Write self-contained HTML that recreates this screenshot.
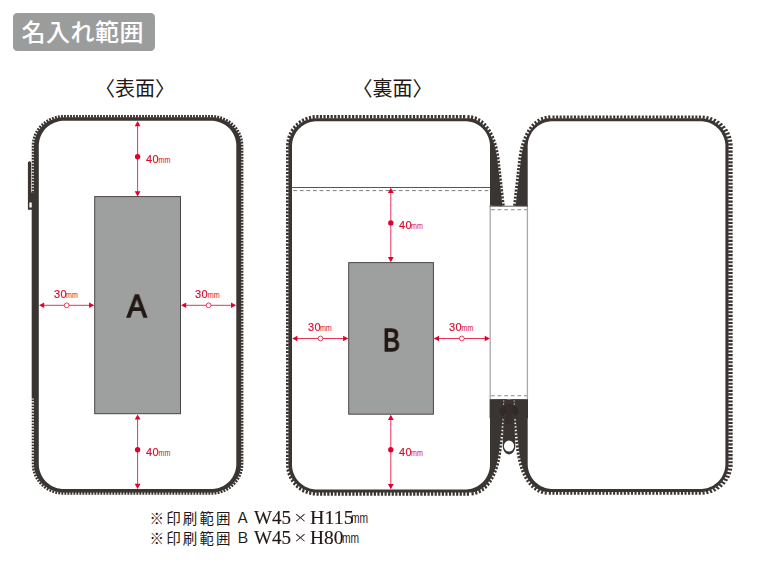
<!DOCTYPE html>
<html lang="ja">
<head>
<meta charset="utf-8">
<title>名入れ範囲</title>
<style>
html,body{margin:0;padding:0;background:#fff;}
body{width:760px;height:570px;position:relative;overflow:hidden;font-family:"Liberation Sans",sans-serif;}
#art{position:absolute;left:0;top:0;width:760px;height:570px;display:block;}
.badge{position:absolute;left:13px;top:12.5px;width:142px;height:38px;border-radius:4.5px;background:#9b9d9d;}
.t{position:absolute;white-space:nowrap;line-height:1;margin:0;transform-origin:0 0;will-change:transform;}
.dim{font-family:"Liberation Sans",sans-serif;font-size:11px;color:#d8102f;letter-spacing:0.35px;-webkit-text-stroke:0.2px #d8102f;}
.big{font-family:"Liberation Sans",sans-serif;font-size:31px;color:#231815;-webkit-text-stroke:1.4px #231815;}
.note{font-family:"Liberation Serif",serif;font-size:18px;color:#231815;-webkit-text-stroke:0.15px #231815;}
.x{-webkit-text-stroke:0;color:#3d3533;}
</style>
</head>
<body>
<div class="badge"></div>
<svg id="art" width="760" height="570" viewBox="0 0 760 570">
<path fill="#3a3532" fill-rule="evenodd" d="M34 145.8L34.06 143.94 34.25 142.08 34.57 140.24 35.02 138.42 35.58 136.64 36.27 134.89 37.07 133.19 37.99 131.55 39.02 129.97 40.16 128.45 41.4 127.01 42.73 125.65 44.15 124.37 45.66 123.19 47.24 122.1 48.9 121.12 50.62 120.24 52.4 119.47 54.22 118.81 56.09 118.27 57.99 117.85 59.91 117.54 61.85 117.36 63.8 117.3 211.3 117.3 213.25 117.36 215.19 117.54 217.11 117.85 219.01 118.27 220.88 118.81 222.7 119.47 224.48 120.24 226.2 121.12 227.86 122.1 229.44 123.19 230.95 124.37 232.37 125.65 233.7 127.01 234.94 128.45 236.08 129.97 237.11 131.55 238.03 133.19 238.83 134.89 239.52 136.64 240.08 138.42 240.53 140.24 240.85 142.08 241.04 143.94 241.1 145.8 241.1 464 241.04 465.86 240.85 467.72 240.53 469.56 240.08 471.38 239.52 473.16 238.83 474.91 238.03 476.61 237.11 478.25 236.08 479.83 234.94 481.35 233.7 482.79 232.37 484.15 230.95 485.43 229.44 486.61 227.86 487.7 226.2 488.68 224.48 489.56 222.7 490.33 220.88 490.99 219.01 491.53 217.11 491.95 215.19 492.26 213.25 492.44 211.3 492.5 63.8 492.5 61.85 492.44 59.91 492.26 57.99 491.95 56.09 491.53 54.22 490.99 52.4 490.33 50.62 489.56 48.9 488.68 47.24 487.7 45.66 486.61 44.15 485.43 42.73 484.15 41.4 482.79 40.16 481.35 39.02 479.83 37.99 478.25 37.07 476.61 36.27 474.91 35.58 473.16 35.02 471.38 34.57 469.56 34.25 467.72 34.06 465.86 34 464ZM38.8 145.8L38.85 144.16 39.01 142.54 39.28 140.92 39.65 139.33 40.13 137.76 40.7 136.23 41.38 134.74 42.15 133.3 43.01 131.91 43.97 130.58 45 129.32 46.12 128.12 47.32 127 48.58 125.97 49.91 125.01 51.3 124.15 52.74 123.38 54.23 122.7 55.76 122.13 57.33 121.65 58.92 121.28 60.54 121.01 62.16 120.85 63.8 120.8 211.3 120.8 212.94 120.85 214.56 121.01 216.18 121.28 217.77 121.65 219.34 122.13 220.87 122.7 222.36 123.38 223.8 124.15 225.19 125.01 226.52 125.97 227.78 127 228.98 128.12 230.1 129.32 231.13 130.58 232.09 131.91 232.95 133.3 233.72 134.74 234.4 136.23 234.97 137.76 235.45 139.33 235.82 140.92 236.09 142.54 236.25 144.16 236.3 145.8 236.3 464 236.25 465.64 236.09 467.26 235.82 468.88 235.45 470.47 234.97 472.04 234.4 473.57 233.72 475.06 232.95 476.5 232.09 477.89 231.13 479.22 230.1 480.48 228.98 481.68 227.78 482.8 226.52 483.83 225.19 484.79 223.8 485.65 222.36 486.42 220.87 487.1 219.34 487.67 217.77 488.15 216.18 488.52 214.56 488.79 212.94 488.95 211.3 489 63.8 489 62.16 488.95 60.54 488.79 58.92 488.52 57.33 488.15 55.76 487.67 54.23 487.1 52.74 486.42 51.3 485.65 49.91 484.79 48.58 483.83 47.32 482.8 46.12 481.68 45 480.48 43.97 479.22 43.01 477.89 42.15 476.5 41.38 475.06 40.7 473.57 40.13 472.04 39.65 470.47 39.28 468.88 39.01 467.26 38.85 465.64 38.8 464Z"/>
<path fill="#3a3532" d="M34.4 192.6L31.7 192.75 31.7 190.85 34.4 190.85ZM34.4 189.75L31.7 189.75 31.7 187.85 34.4 187.85ZM34.4 186.75L31.7 186.75 31.7 184.85 34.4 184.85ZM34.4 183.75L31.7 183.75 31.7 181.85 34.4 181.85ZM34.4 180.75L31.7 180.75 31.7 178.85 34.4 178.85ZM34.4 177.75L31.7 177.75 31.7 175.85 34.4 175.85ZM34.4 174.75L31.7 174.75 31.7 172.85 34.4 172.85ZM34.4 171.75L31.7 171.75 31.7 169.85 34.4 169.85ZM34.4 168.75L31.7 168.75 31.7 166.85 34.4 166.85ZM34.4 165.75L31.7 165.75 31.7 163.85 34.4 163.85ZM34.4 162.75L31.7 162.75 31.7 160.85 34.4 160.85ZM34.4 159.75L31.7 159.75 31.7 157.85 34.4 157.85ZM34.4 156.75L31.7 156.75 31.7 154.85 34.4 154.85ZM34.4 153.75L31.7 153.75 31.7 151.85 34.4 151.85ZM34.4 150.75L31.7 150.75 31.7 148.85 34.4 148.85ZM34.4 147.75L31.7 147.75 31.7 145.85 34.4 145.85ZM34.43 144.79L31.69 144.51 31.89 142.62 34.57 142.9ZM34.7 141.83L32.04 141.37 32.37 139.5 35.05 139.97ZM35.3 138.95L32.7 138.13 33.27 136.32 35.84 137.13ZM36.21 136.12L33.7 135.14 34.4 133.37 36.95 134.38ZM37.4 133.43L35.04 132.11 35.97 130.45 38.33 131.77ZM38.9 130.89L36.69 129.24 37.83 127.72 39.99 129.34ZM40.65 128.49L38.6 126.73 39.84 125.29 41.9 127.06ZM42.63 126.32L40.81 124.28 42.22 123.01 44.02 125.02ZM44.85 124.33L43.18 122.21 44.68 121.04 46.36 123.19ZM47.23 122.6L45.84 120.26 47.47 119.29 48.85 121.61ZM49.8 121.11L48.57 118.7 50.26 117.84 51.51 120.29ZM52.48 119.87L51.56 117.33 53.35 116.68 54.26 119.22ZM55.27 118.92L54.67 116.23 56.52 115.82 57.11 118.45ZM58.16 118.23L57.74 115.56 59.61 115.26 60.04 117.93ZM61.08 117.83L60.99 115.09 62.89 115.03 62.98 117.73ZM64.06 117.7L64.06 115 65.96 115 65.96 117.7ZM67.06 117.7L67.06 115 68.96 115 68.96 117.7ZM70.06 117.7L70.06 115 71.96 115 71.96 117.7ZM73.06 117.7L73.06 115 74.96 115 74.96 117.7ZM76.06 117.7L76.06 115 77.96 115 77.96 117.7ZM79.06 117.7L79.06 115 80.96 115 80.96 117.7ZM82.06 117.7L82.06 115 83.96 115 83.96 117.7ZM85.06 117.7L85.06 115 86.96 115 86.96 117.7ZM88.06 117.7L88.06 115 89.96 115 89.96 117.7ZM91.06 117.7L91.06 115 92.96 115 92.96 117.7ZM94.06 117.7L94.06 115 95.96 115 95.96 117.7ZM97.06 117.7L97.06 115 98.96 115 98.96 117.7ZM100.06 117.7L100.06 115 101.96 115 101.96 117.7ZM103.06 117.7L103.06 115 104.96 115 104.96 117.7ZM106.06 117.7L106.06 115 107.96 115 107.96 117.7ZM109.06 117.7L109.06 115 110.96 115 110.96 117.7ZM112.06 117.7L112.06 115 113.96 115 113.96 117.7ZM115.06 117.7L115.06 115 116.96 115 116.96 117.7ZM118.06 117.7L118.06 115 119.96 115 119.96 117.7ZM121.06 117.7L121.06 115 122.96 115 122.96 117.7ZM124.06 117.7L124.06 115 125.96 115 125.96 117.7ZM127.06 117.7L127.06 115 128.96 115 128.96 117.7ZM130.06 117.7L130.06 115 131.96 115 131.96 117.7ZM133.06 117.7L133.06 115 134.96 115 134.96 117.7ZM136.06 117.7L136.06 115 137.96 115 137.96 117.7ZM139.06 117.7L139.06 115 140.96 115 140.96 117.7ZM142.06 117.7L142.06 115 143.96 115 143.96 117.7ZM145.06 117.7L145.06 115 146.96 115 146.96 117.7ZM148.06 117.7L148.06 115 149.96 115 149.96 117.7ZM151.06 117.7L151.06 115 152.96 115 152.96 117.7ZM154.06 117.7L154.06 115 155.96 115 155.96 117.7ZM157.06 117.7L157.06 115 158.96 115 158.96 117.7ZM160.06 117.7L160.06 115 161.96 115 161.96 117.7ZM163.06 117.7L163.06 115 164.96 115 164.96 117.7ZM166.06 117.7L166.06 115 167.96 115 167.96 117.7ZM169.06 117.7L169.06 115 170.96 115 170.96 117.7ZM172.06 117.7L172.06 115 173.96 115 173.96 117.7ZM175.06 117.7L175.06 115 176.96 115 176.96 117.7ZM178.06 117.7L178.06 115 179.96 115 179.96 117.7ZM181.06 117.7L181.06 115 182.96 115 182.96 117.7ZM184.06 117.7L184.06 115 185.96 115 185.96 117.7ZM187.06 117.7L187.06 115 188.96 115 188.96 117.7ZM190.06 117.7L190.06 115 191.96 115 191.96 117.7ZM193.06 117.7L193.06 115 194.96 115 194.96 117.7ZM196.06 117.7L196.06 115 197.96 115 197.96 117.7ZM199.06 117.7L199.06 115 200.96 115 200.96 117.7ZM202.06 117.7L202.06 115 203.96 115 203.96 117.7ZM205.06 117.7L205.06 115 206.96 115 206.96 117.7ZM208.06 117.7L208.06 115 209.96 115 209.96 117.7ZM211.05 117.7L211.14 114.99 213.03 115.05 212.95 117.75ZM214.02 117.84L214.27 115.15 216.17 115.33 215.91 118.06ZM216.94 118.23L217.53 115.58 219.39 116 218.8 118.63ZM219.83 118.93L220.59 116.33 222.41 116.86 221.64 119.51ZM222.63 119.87L223.7 117.39 225.44 118.15 224.37 120.63ZM225.3 121.11L226.71 118.74 228.34 119.71 226.96 122.04ZM227.87 122.6L229.4 120.37 230.97 121.45 229.43 123.69ZM230.25 124.33L232.08 122.3 233.49 123.56 231.69 125.58ZM232.47 126.32L234.4 124.43 235.73 125.79 233.77 127.7ZM234.45 128.49L236.63 126.86 237.77 128.38 235.61 130ZM236.2 130.89L238.47 129.42 239.5 131.01 237.19 132.52ZM237.7 133.43L240.14 132.28 240.95 133.99 238.5 135.15ZM238.89 136.12L241.5 135.29 242.08 137.1 239.51 137.92ZM239.8 138.95L242.42 138.31 242.87 140.16 240.22 140.8ZM240.4 141.83L243.1 141.55 243.3 143.44 240.61 143.72ZM240.67 144.79L243.36 144.7 243.43 146.6 240.7 146.69ZM240.7 147.78L243.4 147.78 243.4 149.68 240.7 149.68ZM240.7 150.78L243.4 150.78 243.4 152.68 240.7 152.68ZM240.7 153.78L243.4 153.78 243.4 155.68 240.7 155.68ZM240.7 156.78L243.4 156.78 243.4 158.68 240.7 158.68ZM240.7 159.78L243.4 159.78 243.4 161.68 240.7 161.68ZM240.7 162.78L243.4 162.78 243.4 164.68 240.7 164.68ZM240.7 165.78L243.4 165.78 243.4 167.68 240.7 167.68ZM240.7 168.78L243.4 168.78 243.4 170.68 240.7 170.68ZM240.7 171.78L243.4 171.78 243.4 173.68 240.7 173.68ZM240.7 174.78L243.4 174.78 243.4 176.68 240.7 176.68ZM240.7 177.78L243.4 177.78 243.4 179.68 240.7 179.68ZM240.7 180.78L243.4 180.78 243.4 182.68 240.7 182.68ZM240.7 183.78L243.4 183.78 243.4 185.68 240.7 185.68ZM240.7 186.78L243.4 186.78 243.4 188.68 240.7 188.68ZM240.7 189.78L243.4 189.78 243.4 191.68 240.7 191.68ZM240.7 192.78L243.4 192.78 243.4 194.68 240.7 194.68ZM240.7 195.78L243.4 195.78 243.4 197.68 240.7 197.68ZM240.7 198.78L243.4 198.78 243.4 200.68 240.7 200.68ZM240.7 201.78L243.4 201.78 243.4 203.68 240.7 203.68ZM240.7 204.78L243.4 204.78 243.4 206.68 240.7 206.68ZM240.7 207.78L243.4 207.78 243.4 209.68 240.7 209.68ZM240.7 210.78L243.4 210.78 243.4 212.68 240.7 212.68ZM240.7 213.78L243.4 213.78 243.4 215.68 240.7 215.68ZM240.7 216.78L243.4 216.78 243.4 218.68 240.7 218.68ZM240.7 219.78L243.4 219.78 243.4 221.68 240.7 221.68ZM240.7 222.78L243.4 222.78 243.4 224.68 240.7 224.68ZM240.7 225.78L243.4 225.78 243.4 227.68 240.7 227.68ZM240.7 228.78L243.4 228.78 243.4 230.68 240.7 230.68ZM240.7 231.78L243.4 231.78 243.4 233.68 240.7 233.68ZM240.7 234.78L243.4 234.78 243.4 236.68 240.7 236.68ZM240.7 237.78L243.4 237.78 243.4 239.68 240.7 239.68ZM240.7 240.78L243.4 240.78 243.4 242.68 240.7 242.68ZM240.7 243.78L243.4 243.78 243.4 245.68 240.7 245.68ZM240.7 246.78L243.4 246.78 243.4 248.68 240.7 248.68ZM240.7 249.78L243.4 249.78 243.4 251.68 240.7 251.68ZM240.7 252.78L243.4 252.78 243.4 254.68 240.7 254.68ZM240.7 255.78L243.4 255.78 243.4 257.68 240.7 257.68ZM240.7 258.78L243.4 258.78 243.4 260.68 240.7 260.68ZM240.7 261.78L243.4 261.78 243.4 263.68 240.7 263.68ZM240.7 264.78L243.4 264.78 243.4 266.68 240.7 266.68ZM240.7 267.78L243.4 267.78 243.4 269.68 240.7 269.68ZM240.7 270.78L243.4 270.78 243.4 272.68 240.7 272.68ZM240.7 273.78L243.4 273.78 243.4 275.68 240.7 275.68ZM240.7 276.78L243.4 276.78 243.4 278.68 240.7 278.68ZM240.7 279.78L243.4 279.78 243.4 281.68 240.7 281.68ZM240.7 282.78L243.4 282.78 243.4 284.68 240.7 284.68ZM240.7 285.78L243.4 285.78 243.4 287.68 240.7 287.68ZM240.7 288.78L243.4 288.78 243.4 290.68 240.7 290.68ZM240.7 291.78L243.4 291.78 243.4 293.68 240.7 293.68ZM240.7 294.78L243.4 294.78 243.4 296.68 240.7 296.68ZM240.7 297.78L243.4 297.78 243.4 299.68 240.7 299.68ZM240.7 300.78L243.4 300.78 243.4 302.68 240.7 302.68ZM240.7 303.78L243.4 303.78 243.4 305.68 240.7 305.68ZM240.7 306.78L243.4 306.78 243.4 308.68 240.7 308.68ZM240.7 309.78L243.4 309.78 243.4 311.68 240.7 311.68ZM240.7 312.78L243.4 312.78 243.4 314.68 240.7 314.68ZM240.7 315.78L243.4 315.78 243.4 317.68 240.7 317.68ZM240.7 318.78L243.4 318.78 243.4 320.68 240.7 320.68ZM240.7 321.78L243.4 321.78 243.4 323.68 240.7 323.68ZM240.7 324.78L243.4 324.78 243.4 326.68 240.7 326.68ZM240.7 327.78L243.4 327.78 243.4 329.68 240.7 329.68ZM240.7 330.78L243.4 330.78 243.4 332.68 240.7 332.68ZM240.7 333.78L243.4 333.78 243.4 335.68 240.7 335.68ZM240.7 336.78L243.4 336.78 243.4 338.68 240.7 338.68ZM240.7 339.78L243.4 339.78 243.4 341.68 240.7 341.68ZM240.7 342.78L243.4 342.78 243.4 344.68 240.7 344.68ZM240.7 345.78L243.4 345.78 243.4 347.68 240.7 347.68ZM240.7 348.78L243.4 348.78 243.4 350.68 240.7 350.68ZM240.7 351.78L243.4 351.78 243.4 353.68 240.7 353.68ZM240.7 354.78L243.4 354.78 243.4 356.68 240.7 356.68ZM240.7 357.78L243.4 357.78 243.4 359.68 240.7 359.68ZM240.7 360.78L243.4 360.78 243.4 362.68 240.7 362.68ZM240.7 363.78L243.4 363.78 243.4 365.68 240.7 365.68ZM240.7 366.78L243.4 366.78 243.4 368.68 240.7 368.68ZM240.7 369.78L243.4 369.78 243.4 371.68 240.7 371.68ZM240.7 372.78L243.4 372.78 243.4 374.68 240.7 374.68ZM240.7 375.78L243.4 375.78 243.4 377.68 240.7 377.68ZM240.7 378.78L243.4 378.78 243.4 380.68 240.7 380.68ZM240.7 381.78L243.4 381.78 243.4 383.68 240.7 383.68ZM240.7 384.78L243.4 384.78 243.4 386.68 240.7 386.68ZM240.7 387.78L243.4 387.78 243.4 389.68 240.7 389.68ZM240.7 390.78L243.4 390.78 243.4 392.68 240.7 392.68ZM240.7 393.78L243.4 393.78 243.4 395.68 240.7 395.68ZM240.7 396.78L243.4 396.78 243.4 398.68 240.7 398.68ZM240.7 399.78L243.4 399.78 243.4 401.68 240.7 401.68ZM240.7 402.78L243.4 402.78 243.4 404.68 240.7 404.68ZM240.7 405.78L243.4 405.78 243.4 407.68 240.7 407.68ZM240.7 408.78L243.4 408.78 243.4 410.68 240.7 410.68ZM240.7 411.78L243.4 411.78 243.4 413.68 240.7 413.68ZM240.7 414.78L243.4 414.78 243.4 416.68 240.7 416.68ZM240.7 417.78L243.4 417.78 243.4 419.68 240.7 419.68ZM240.7 420.78L243.4 420.78 243.4 422.68 240.7 422.68ZM240.7 423.78L243.4 423.78 243.4 425.68 240.7 425.68ZM240.7 426.78L243.4 426.78 243.4 428.68 240.7 428.68ZM240.7 429.78L243.4 429.78 243.4 431.68 240.7 431.68ZM240.7 432.78L243.4 432.78 243.4 434.68 240.7 434.68ZM240.7 435.78L243.4 435.78 243.4 437.68 240.7 437.68ZM240.7 438.78L243.4 438.78 243.4 440.68 240.7 440.68ZM240.7 441.78L243.4 441.78 243.4 443.68 240.7 443.68ZM240.7 444.78L243.4 444.78 243.4 446.68 240.7 446.68ZM240.7 447.78L243.4 447.78 243.4 449.68 240.7 449.68ZM240.7 450.78L243.4 450.78 243.4 452.68 240.7 452.68ZM240.7 453.78L243.4 453.78 243.4 455.68 240.7 455.68ZM240.7 456.78L243.4 456.78 243.4 458.68 240.7 458.68ZM240.7 459.78L243.4 459.78 243.4 461.68 240.7 461.68ZM240.7 462.78L243.4 462.78 243.4 464.68 240.68 464.68ZM240.64 465.74L243.33 466.01 243.14 467.9 240.45 467.63ZM240.28 468.66L242.96 469.31 242.51 471.15 239.88 470.51ZM239.61 471.55L242.18 472.37 241.61 474.18 239.01 473.35ZM238.63 474.33L241.1 475.5 240.28 477.21 237.84 476.06ZM237.34 477.01L239.7 478.32 238.77 479.98 236.38 478.64ZM235.81 479.52L237.97 481.14 236.83 482.66 234.67 481.04ZM234 481.84L235.97 483.77 234.64 485.13 232.71 483.24ZM231.95 483.99L233.75 486.01 232.34 487.27 230.53 485.25ZM229.7 485.9L231.25 488.16 229.68 489.23 228.16 487.01ZM227.26 487.59L228.64 489.91 227 490.88 225.61 488.54ZM224.67 489.01L225.76 491.51 224.02 492.27 222.94 489.79ZM221.94 490.18L222.86 492.72 221.07 493.36 220.14 490.79ZM219.13 491.08L219.72 493.73 217.87 494.14 217.28 491.51ZM216.22 491.69L216.64 494.35 214.77 494.65 214.34 491.94ZM213.29 492.03L213.38 494.74 211.48 494.8 211.4 492.1ZM210.31 492.1L210.31 494.8 208.41 494.8 208.41 492.1ZM207.31 492.1L207.31 494.8 205.41 494.8 205.41 492.1ZM204.31 492.1L204.31 494.8 202.41 494.8 202.41 492.1ZM201.31 492.1L201.31 494.8 199.41 494.8 199.41 492.1ZM198.31 492.1L198.31 494.8 196.41 494.8 196.41 492.1ZM195.31 492.1L195.31 494.8 193.41 494.8 193.41 492.1ZM192.31 492.1L192.31 494.8 190.41 494.8 190.41 492.1ZM189.31 492.1L189.31 494.8 187.41 494.8 187.41 492.1ZM186.31 492.1L186.31 494.8 184.41 494.8 184.41 492.1ZM183.31 492.1L183.31 494.8 181.41 494.8 181.41 492.1ZM180.31 492.1L180.31 494.8 178.41 494.8 178.41 492.1ZM177.31 492.1L177.31 494.8 175.41 494.8 175.41 492.1ZM174.31 492.1L174.31 494.8 172.41 494.8 172.41 492.1ZM171.31 492.1L171.31 494.8 169.41 494.8 169.41 492.1ZM168.31 492.1L168.31 494.8 166.41 494.8 166.41 492.1ZM165.31 492.1L165.31 494.8 163.41 494.8 163.41 492.1ZM162.31 492.1L162.31 494.8 160.41 494.8 160.41 492.1ZM159.31 492.1L159.31 494.8 157.41 494.8 157.41 492.1ZM156.31 492.1L156.31 494.8 154.41 494.8 154.41 492.1ZM153.31 492.1L153.31 494.8 151.41 494.8 151.41 492.1ZM150.31 492.1L150.31 494.8 148.41 494.8 148.41 492.1ZM147.31 492.1L147.31 494.8 145.41 494.8 145.41 492.1ZM144.31 492.1L144.31 494.8 142.41 494.8 142.41 492.1ZM141.31 492.1L141.31 494.8 139.41 494.8 139.41 492.1ZM138.31 492.1L138.31 494.8 136.41 494.8 136.41 492.1ZM135.31 492.1L135.31 494.8 133.41 494.8 133.41 492.1ZM132.31 492.1L132.31 494.8 130.41 494.8 130.41 492.1ZM129.31 492.1L129.31 494.8 127.41 494.8 127.41 492.1ZM126.31 492.1L126.31 494.8 124.41 494.8 124.41 492.1ZM123.31 492.1L123.31 494.8 121.41 494.8 121.41 492.1ZM120.31 492.1L120.31 494.8 118.41 494.8 118.41 492.1ZM117.31 492.1L117.31 494.8 115.41 494.8 115.41 492.1ZM114.31 492.1L114.31 494.8 112.41 494.8 112.41 492.1ZM111.31 492.1L111.31 494.8 109.41 494.8 109.41 492.1ZM108.31 492.1L108.31 494.8 106.41 494.8 106.41 492.1ZM105.31 492.1L105.31 494.8 103.41 494.8 103.41 492.1ZM102.31 492.1L102.31 494.8 100.41 494.8 100.41 492.1ZM99.31 492.1L99.31 494.8 97.41 494.8 97.41 492.1ZM96.31 492.1L96.31 494.8 94.41 494.8 94.41 492.1ZM93.31 492.1L93.31 494.8 91.41 494.8 91.41 492.1ZM90.31 492.1L90.31 494.8 88.41 494.8 88.41 492.1ZM87.31 492.1L87.31 494.8 85.41 494.8 85.41 492.1ZM84.31 492.1L84.31 494.8 82.41 494.8 82.41 492.1ZM81.31 492.1L81.31 494.8 79.41 494.8 79.41 492.1ZM78.31 492.1L78.31 494.8 76.41 494.8 76.41 492.1ZM75.31 492.1L75.31 494.8 73.41 494.8 73.41 492.1ZM72.31 492.1L72.31 494.8 70.41 494.8 70.41 492.1ZM69.31 492.1L69.31 494.8 67.41 494.8 67.41 492.1ZM66.31 492.1L66.31 494.8 64.41 494.8 64.41 492.1ZM63.32 492.08L63.24 494.78 61.34 494.72 61.42 492ZM60.38 491.9L59.95 494.59 58.08 494.3 58.5 491.63ZM57.44 491.42L56.86 494.06 55 493.64 55.6 490.97ZM54.59 490.68L53.67 493.23 51.88 492.59 52.8 490.05ZM51.81 489.64L50.73 492.12 48.99 491.36 50.08 488.84ZM49.15 488.36L47.77 490.68 46.14 489.71 47.52 487.39ZM46.65 486.8L44.95 488.98 43.45 487.8 45.12 485.68ZM44.28 485.01L42.48 487.02 41.06 485.75 42.87 483.73ZM42.14 482.98L40.06 484.77 38.82 483.33 40.87 481.57ZM40.2 480.74L38.04 482.35 36.9 480.83 39.08 479.2ZM38.51 478.32L36.14 479.65 35.21 477.99 37.57 476.67ZM37.09 475.71L34.65 476.87 33.84 475.15 36.33 473.97ZM35.95 473L33.38 473.81 32.8 472 35.38 471.18ZM35.13 470.17L32.42 470.64 32.1 468.77 34.76 468.31ZM34.61 467.25L31.92 467.52 31.73 465.63 34.45 465.35ZM34.41 464.29L31.7 464.29 31.7 462.39 34.4 462.39ZM34.4 461.29L31.7 461.29 31.7 459.39 34.4 459.39ZM34.4 458.29L31.7 458.29 31.7 456.39 34.4 456.39ZM34.4 455.29L31.7 455.29 31.7 453.39 34.4 453.39ZM34.4 452.29L31.7 452.29 31.7 450.39 34.4 450.39ZM34.4 449.29L31.7 449.29 31.7 447.39 34.4 447.39ZM34.4 446.29L31.7 446.29 31.7 444.39 34.4 444.39ZM34.4 443.29L31.7 443.29 31.7 441.39 34.4 441.39ZM34.4 440.29L31.7 440.29 31.7 438.39 34.4 438.39ZM34.4 437.29L31.7 437.29 31.7 435.39 34.4 435.39ZM34.4 434.29L31.7 434.29 31.7 432.39 34.4 432.39ZM34.4 431.29L31.7 431.29 31.7 429.39 34.4 429.39ZM34.4 428.29L31.7 428.29 31.7 426.39 34.4 426.39ZM34.4 425.29L31.7 425.29 31.7 423.39 34.4 423.39ZM34.4 422.29L31.7 422.29 31.7 420.39 34.4 420.39ZM34.4 419.29L31.7 419.29 31.7 417.39 34.4 417.39ZM34.4 416.29L31.7 416.29 31.7 414.39 34.4 414.39ZM34.4 413.29L31.7 413.29 31.7 411.39 34.4 411.39ZM34.4 410.29L31.7 410.29 31.7 408.39 34.4 408.39ZM34.4 407.29L31.7 407.29 31.7 405.39 34.4 405.39ZM34.4 404.29L31.7 404.29 31.7 402.39 34.4 402.39ZM34.4 401.29L31.7 401.29 31.7 399.39 34.4 399.39Z"/>
<rect x="31.7" y="192.4" width="2.8" height="206.2" fill="#3a3532"/>
<path fill="#3a3532" d="M27.9 209.8V162.8Q27.9 161.2 29.5 161.2Q31.2 161.2 31.2 162.8V192.4H32.2V209.8ZM29.4 202.4H32V207.6H29.4Z" fill-rule="evenodd"/>
<path fill="#3a3532" fill-rule="evenodd" d="M317 492.5L315.13 492.44 313.27 492.26 311.42 491.96 309.6 491.55 307.81 491.01 306.06 490.37 304.35 489.61 302.7 488.75 301.11 487.78 299.59 486.71 298.14 485.55 296.78 484.3 295.5 482.96 294.31 481.55 293.22 480.06 292.23 478.5 291.35 476.88 290.58 475.22 289.92 473.5 289.37 471.75 288.95 469.96 288.64 468.15 288.46 466.33 288.4 464.5 288.4 146.2 288.46 144.37 288.64 142.55 288.95 140.74 289.37 138.95 289.92 137.2 290.58 135.48 291.35 133.82 292.23 132.2 293.22 130.64 294.31 129.15 295.5 127.74 296.78 126.4 298.14 125.15 299.59 123.99 301.11 122.92 302.7 121.95 304.35 121.09 306.06 120.33 307.81 119.69 309.6 119.15 311.42 118.74 313.27 118.44 315.13 118.26 317 118.2 466.94 118.2 468.32 118.23 469.61 118.33 470.86 118.5 472.08 118.73 473.27 119.01 474.42 119.36 475.55 119.77 476.64 120.23 477.71 120.76 478.75 121.34 479.77 121.97 480.76 122.66 481.72 123.41 482.66 124.21 483.57 125.06 484.45 125.97 485.31 126.93 486.15 127.94 486.95 129 487.73 130.11 488.48 131.27 489.21 132.47 489.91 133.72 490.58 135.01 491.22 136.34 491.83 137.71 492.42 139.12 492.97 140.56 493.5 142.04 494 143.55 494.47 145.09 494.91 146.66 495.33 148.26 495.71 149.88 496.07 151.53 496.39 153.2 496.69 154.89 496.96 156.59 497.2 158.32 497.41 160.05 502.51 206.15 490 205.8 490 399.5 504.81 399.15 499.21 450.15 499 451.89 498.75 453.63 498.48 455.36 498.17 457.07 497.85 458.76 497.49 460.42 497.1 462.06 496.69 463.68 496.25 465.27 495.78 466.83 495.29 468.36 494.77 469.86 494.21 471.32 493.63 472.74 493.03 474.13 492.39 475.48 491.73 476.79 491.04 478.05 490.32 479.27 489.58 480.44 488.81 481.56 488.01 482.64 487.19 483.66 486.34 484.64 485.46 485.56 484.56 486.42 483.63 487.23 482.68 487.99 481.7 488.69 480.69 489.33 479.66 489.91 478.6 490.44 477.51 490.91 476.39 491.32 475.24 491.68 474.06 491.97 472.85 492.2 471.6 492.36 470.32 492.47 468.94 492.5ZM292 146.2L292.05 144.56 292.21 142.94 292.48 141.32 292.85 139.73 293.33 138.16 293.9 136.63 294.58 135.14 295.35 133.7 296.21 132.31 297.17 130.98 298.2 129.72 299.32 128.52 300.52 127.4 301.78 126.37 303.11 125.41 304.5 124.55 305.94 123.78 307.43 123.1 308.96 122.53 310.53 122.05 312.12 121.68 313.74 121.41 315.36 121.25 317 121.2 465 121.2 466.64 121.25 468.26 121.41 469.88 121.68 471.47 122.05 473.04 122.53 474.57 123.1 476.06 123.78 477.5 124.55 478.89 125.41 480.22 126.37 481.48 127.4 482.68 128.52 483.8 129.72 484.83 130.98 485.79 132.31 486.65 133.7 487.42 135.14 488.1 136.63 488.67 138.16 489.15 139.73 489.52 141.32 489.79 142.94 489.95 144.56 490 146.2 490 464.5 489.95 466.14 489.79 467.76 489.52 469.38 489.15 470.97 488.67 472.54 488.1 474.07 487.42 475.56 486.65 477 485.79 478.39 484.83 479.72 483.8 480.98 482.68 482.18 481.48 483.3 480.22 484.33 478.89 485.29 477.5 486.15 476.06 486.92 474.57 487.6 473.04 488.17 471.47 488.65 469.88 489.02 468.26 489.29 466.64 489.45 465 489.5 317 489.5 315.36 489.45 313.74 489.29 312.12 489.02 310.53 488.65 308.96 488.17 307.43 487.6 305.94 486.92 304.5 486.15 303.11 485.29 301.78 484.33 300.52 483.3 299.32 482.18 298.2 480.98 297.17 479.72 296.21 478.39 295.35 477 294.58 475.56 293.9 474.07 293.33 472.54 292.85 470.97 292.48 469.38 292.21 467.76 292.05 466.14 292 464.5Z"/>
<path fill="#3a3532" d="M468.94 492.1L469.04 495.7 466.84 495.7 466.84 492.1ZM465.46 492.1L465.46 495.7 463.26 495.7 463.26 492.1ZM461.88 492.1L461.88 495.7 459.68 495.7 459.68 492.1ZM458.3 492.1L458.3 495.7 456.1 495.7 456.1 492.1ZM454.72 492.1L454.72 495.7 452.52 495.7 452.52 492.1ZM451.14 492.1L451.14 495.7 448.94 495.7 448.94 492.1ZM447.56 492.1L447.56 495.7 445.36 495.7 445.36 492.1ZM443.98 492.1L443.98 495.7 441.78 495.7 441.78 492.1ZM440.4 492.1L440.4 495.7 438.2 495.7 438.2 492.1ZM436.82 492.1L436.82 495.7 434.62 495.7 434.62 492.1ZM433.24 492.1L433.24 495.7 431.04 495.7 431.04 492.1ZM429.66 492.1L429.66 495.7 427.46 495.7 427.46 492.1ZM426.08 492.1L426.08 495.7 423.88 495.7 423.88 492.1ZM422.5 492.1L422.5 495.7 420.3 495.7 420.3 492.1ZM418.92 492.1L418.92 495.7 416.72 495.7 416.72 492.1ZM415.34 492.1L415.34 495.7 413.14 495.7 413.14 492.1ZM411.76 492.1L411.76 495.7 409.56 495.7 409.56 492.1ZM408.18 492.1L408.18 495.7 405.98 495.7 405.98 492.1ZM404.6 492.1L404.6 495.7 402.4 495.7 402.4 492.1ZM401.02 492.1L401.02 495.7 398.82 495.7 398.82 492.1ZM397.44 492.1L397.44 495.7 395.24 495.7 395.24 492.1ZM393.86 492.1L393.86 495.7 391.66 495.7 391.66 492.1ZM390.28 492.1L390.28 495.7 388.08 495.7 388.08 492.1ZM386.7 492.1L386.7 495.7 384.5 495.7 384.5 492.1ZM383.12 492.1L383.12 495.7 380.92 495.7 380.92 492.1ZM379.54 492.1L379.54 495.7 377.34 495.7 377.34 492.1ZM375.96 492.1L375.96 495.7 373.76 495.7 373.76 492.1ZM372.38 492.1L372.38 495.7 370.18 495.7 370.18 492.1ZM368.8 492.1L368.8 495.7 366.6 495.7 366.6 492.1ZM365.22 492.1L365.22 495.7 363.02 495.7 363.02 492.1ZM361.64 492.1L361.64 495.7 359.44 495.7 359.44 492.1ZM358.06 492.1L358.06 495.7 355.86 495.7 355.86 492.1ZM354.48 492.1L354.48 495.7 352.28 495.7 352.28 492.1ZM350.9 492.1L350.9 495.7 348.7 495.7 348.7 492.1ZM347.32 492.1L347.32 495.7 345.12 495.7 345.12 492.1ZM343.74 492.1L343.74 495.7 341.54 495.7 341.54 492.1ZM340.16 492.1L340.16 495.7 337.96 495.7 337.96 492.1ZM336.58 492.1L336.58 495.7 334.38 495.7 334.38 492.1ZM333 492.1L333 495.7 330.8 495.7 330.8 492.1ZM329.42 492.1L329.42 495.7 327.22 495.7 327.22 492.1ZM325.84 492.1L325.84 495.7 323.64 495.7 323.64 492.1ZM322.26 492.1L322.26 495.7 320.06 495.7 320.06 492.1ZM318.68 492.1L318.68 495.7 316.48 495.7 316.48 492.08ZM315.14 492.04L314.87 495.62 312.68 495.41 312.95 491.8ZM311.64 491.59L311.01 495.11 308.87 494.62 309.5 491.1ZM308.22 490.72L307.25 494.12 305.18 493.36 306.15 489.98ZM304.94 489.44L303.63 492.65 301.68 491.63 302.98 488.44ZM301.84 487.76L300.21 490.74 298.41 489.47 300.02 486.53ZM298.97 485.71L297.05 488.4 295.43 486.91 297.32 484.26ZM296.39 483.31L294.2 485.66 292.79 483.98 294.93 481.66ZM294.12 480.61L291.71 482.58 290.53 480.72 292.89 478.79ZM292.22 477.65L289.62 479.19 288.69 477.19 291.23 475.68ZM290.71 474.44L288.09 475.73 287.3 473.67 289.98 472.36ZM289.63 471.08L286.9 471.92 286.39 469.78 289.18 468.93ZM288.99 467.62L286.21 467.98 285.99 465.79 288.83 465.42ZM288.8 464.08L286 464.08 286 461.88 288.8 461.88ZM288.8 460.5L286 460.5 286 458.3 288.8 458.3ZM288.8 456.92L286 456.92 286 454.72 288.8 454.72ZM288.8 453.34L286 453.34 286 451.14 288.8 451.14ZM288.8 449.76L286 449.76 286 447.56 288.8 447.56ZM288.8 446.18L286 446.18 286 443.98 288.8 443.98ZM288.8 442.6L286 442.6 286 440.4 288.8 440.4ZM288.8 439.02L286 439.02 286 436.82 288.8 436.82ZM288.8 435.44L286 435.44 286 433.24 288.8 433.24ZM288.8 431.86L286 431.86 286 429.66 288.8 429.66ZM288.8 428.28L286 428.28 286 426.08 288.8 426.08ZM288.8 424.7L286 424.7 286 422.5 288.8 422.5ZM288.8 421.12L286 421.12 286 418.92 288.8 418.92ZM288.8 417.54L286 417.54 286 415.34 288.8 415.34ZM288.8 413.96L286 413.96 286 411.76 288.8 411.76ZM288.8 410.38L286 410.38 286 408.18 288.8 408.18ZM288.8 406.8L286 406.8 286 404.6 288.8 404.6ZM288.8 403.22L286 403.22 286 401.02 288.8 401.02ZM288.8 399.64L286 399.64 286 397.44 288.8 397.44ZM288.8 396.06L286 396.06 286 393.86 288.8 393.86ZM288.8 392.48L286 392.48 286 390.28 288.8 390.28ZM288.8 388.9L286 388.9 286 386.7 288.8 386.7ZM288.8 385.32L286 385.32 286 383.12 288.8 383.12ZM288.8 381.74L286 381.74 286 379.54 288.8 379.54ZM288.8 378.16L286 378.16 286 375.96 288.8 375.96ZM288.8 374.58L286 374.58 286 372.38 288.8 372.38ZM288.8 371L286 371 286 368.8 288.8 368.8ZM288.8 367.42L286 367.42 286 365.22 288.8 365.22ZM288.8 363.84L286 363.84 286 361.64 288.8 361.64ZM288.8 360.26L286 360.26 286 358.06 288.8 358.06ZM288.8 356.68L286 356.68 286 354.48 288.8 354.48ZM288.8 353.1L286 353.1 286 350.9 288.8 350.9ZM288.8 349.52L286 349.52 286 347.32 288.8 347.32ZM288.8 345.94L286 345.94 286 343.74 288.8 343.74ZM288.8 342.36L286 342.36 286 340.16 288.8 340.16ZM288.8 338.78L286 338.78 286 336.58 288.8 336.58ZM288.8 335.2L286 335.2 286 333 288.8 333ZM288.8 331.62L286 331.62 286 329.42 288.8 329.42ZM288.8 328.04L286 328.04 286 325.84 288.8 325.84ZM288.8 324.46L286 324.46 286 322.26 288.8 322.26ZM288.8 320.88L286 320.88 286 318.68 288.8 318.68ZM288.8 317.3L286 317.3 286 315.1 288.8 315.1ZM288.8 313.72L286 313.72 286 311.52 288.8 311.52ZM288.8 310.14L286 310.14 286 307.94 288.8 307.94ZM288.8 306.56L286 306.56 286 304.36 288.8 304.36ZM288.8 302.98L286 302.98 286 300.78 288.8 300.78ZM288.8 299.4L286 299.4 286 297.2 288.8 297.2ZM288.8 295.82L286 295.82 286 293.62 288.8 293.62ZM288.8 292.24L286 292.24 286 290.04 288.8 290.04ZM288.8 288.66L286 288.66 286 286.46 288.8 286.46ZM288.8 285.08L286 285.08 286 282.88 288.8 282.88ZM288.8 281.5L286 281.5 286 279.3 288.8 279.3ZM288.8 277.92L286 277.92 286 275.72 288.8 275.72ZM288.8 274.34L286 274.34 286 272.14 288.8 272.14ZM288.8 270.76L286 270.76 286 268.56 288.8 268.56ZM288.8 267.18L286 267.18 286 264.98 288.8 264.98ZM288.8 263.6L286 263.6 286 261.4 288.8 261.4ZM288.8 260.02L286 260.02 286 257.82 288.8 257.82ZM288.8 256.44L286 256.44 286 254.24 288.8 254.24ZM288.8 252.86L286 252.86 286 250.66 288.8 250.66ZM288.8 249.28L286 249.28 286 247.08 288.8 247.08ZM288.8 245.7L286 245.7 286 243.5 288.8 243.5ZM288.8 242.12L286 242.12 286 239.92 288.8 239.92ZM288.8 238.54L286 238.54 286 236.34 288.8 236.34ZM288.8 234.96L286 234.96 286 232.76 288.8 232.76ZM288.8 231.38L286 231.38 286 229.18 288.8 229.18ZM288.8 227.8L286 227.8 286 225.6 288.8 225.6ZM288.8 224.22L286 224.22 286 222.02 288.8 222.02ZM288.8 220.64L286 220.64 286 218.44 288.8 218.44ZM288.8 217.06L286 217.06 286 214.86 288.8 214.86ZM288.8 213.48L286 213.48 286 211.28 288.8 211.28ZM288.8 209.9L286 209.9 286 207.7 288.8 207.7ZM288.8 206.32L286 206.32 286 204.12 288.8 204.12ZM288.8 202.74L286 202.74 286 200.54 288.8 200.54ZM288.8 199.16L286 199.16 286 196.96 288.8 196.96ZM288.8 195.58L286 195.58 286 193.38 288.8 193.38ZM288.8 192L286 192 286 189.8 288.8 189.8ZM288.8 188.42L286 188.42 286 186.22 288.8 186.22ZM288.8 184.84L286 184.84 286 182.64 288.8 182.64ZM288.8 181.26L286 181.26 286 179.06 288.8 179.06ZM288.8 177.68L286 177.68 286 175.48 288.8 175.48ZM288.8 174.1L286 174.1 286 171.9 288.8 171.9ZM288.8 170.52L286 170.52 286 168.32 288.8 168.32ZM288.8 166.94L286 166.94 286 164.74 288.8 164.74ZM288.8 163.36L286 163.36 286 161.16 288.8 161.16ZM288.8 159.78L286 159.78 286 157.58 288.8 157.58ZM288.8 156.2L286 156.2 286 154 288.8 154ZM288.8 152.62L286 152.62 286 150.42 288.8 150.42ZM288.8 149.04L286 149.04 286 146.84 288.8 146.84ZM288.82 145.51L285.96 145.14 286.18 142.95 288.97 143.31ZM289.15 141.97L286.39 141.37 286.75 139.2 289.58 139.81ZM289.92 138.53L287.25 137.47 287.9 135.37 290.63 136.45ZM291.14 135.23L288.6 133.71 289.52 131.72 292.11 133.25ZM292.77 132.1L290.4 130.17 291.58 128.32 293.99 130.27ZM294.78 129.21L292.64 126.9 294.05 125.21 296.23 127.55ZM297.15 126.6L295.26 123.95 296.88 122.46 298.79 125.14ZM299.83 124.31L298.22 121.36 300.02 120.1 301.64 123.06ZM302.78 122.37L301.48 119.17 303.42 118.15 304.73 121.36ZM305.94 120.82L304.97 117.42 307.03 116.66 308 120.04ZM309.28 119.67L308.65 116.13 310.79 115.64 311.41 119.15ZM312.72 118.93L312.45 115.31 314.64 115.1 314.91 118.68ZM316.25 118.62L316.25 115 318.45 115 318.45 118.6ZM319.83 118.6L319.83 115 322.03 115 322.03 118.6ZM323.41 118.6L323.41 115 325.61 115 325.61 118.6ZM326.99 118.6L326.99 115 329.19 115 329.19 118.6ZM330.57 118.6L330.57 115 332.77 115 332.77 118.6ZM334.15 118.6L334.15 115 336.35 115 336.35 118.6ZM337.73 118.6L337.73 115 339.93 115 339.93 118.6ZM341.31 118.6L341.31 115 343.51 115 343.51 118.6ZM344.89 118.6L344.89 115 347.09 115 347.09 118.6ZM348.47 118.6L348.47 115 350.67 115 350.67 118.6ZM352.05 118.6L352.05 115 354.25 115 354.25 118.6ZM355.63 118.6L355.63 115 357.83 115 357.83 118.6ZM359.21 118.6L359.21 115 361.41 115 361.41 118.6ZM362.79 118.6L362.79 115 364.99 115 364.99 118.6ZM366.37 118.6L366.37 115 368.57 115 368.57 118.6ZM369.95 118.6L369.95 115 372.15 115 372.15 118.6ZM373.53 118.6L373.53 115 375.73 115 375.73 118.6ZM377.11 118.6L377.11 115 379.31 115 379.31 118.6ZM380.69 118.6L380.69 115 382.89 115 382.89 118.6ZM384.27 118.6L384.27 115 386.47 115 386.47 118.6ZM387.85 118.6L387.85 115 390.05 115 390.05 118.6ZM391.43 118.6L391.43 115 393.63 115 393.63 118.6ZM395.01 118.6L395.01 115 397.21 115 397.21 118.6ZM398.59 118.6L398.59 115 400.79 115 400.79 118.6ZM402.17 118.6L402.17 115 404.37 115 404.37 118.6ZM405.75 118.6L405.75 115 407.95 115 407.95 118.6ZM409.33 118.6L409.33 115 411.53 115 411.53 118.6ZM412.91 118.6L412.91 115 415.11 115 415.11 118.6ZM416.49 118.6L416.49 115 418.69 115 418.69 118.6ZM420.07 118.6L420.07 115 422.27 115 422.27 118.6ZM423.65 118.6L423.65 115 425.85 115 425.85 118.6ZM427.23 118.6L427.23 115 429.43 115 429.43 118.6ZM430.81 118.6L430.81 115 433.01 115 433.01 118.6ZM434.39 118.6L434.39 115 436.59 115 436.59 118.6ZM437.97 118.6L437.97 115 440.17 115 440.17 118.6ZM441.55 118.6L441.55 115 443.75 115 443.75 118.6ZM445.13 118.6L445.13 115 447.33 115 447.33 118.6ZM448.71 118.6L448.71 115 450.91 115 450.91 118.6ZM452.29 118.6L452.29 115 454.49 115 454.49 118.6ZM455.87 118.6L455.87 115 458.07 115 458.07 118.6ZM459.45 118.6L459.45 115 461.65 115 461.65 118.6ZM463.03 118.6L463.03 115 465.23 115 465.23 118.6Z"/>
<path fill="#3a3532" d="M467.31 118.61L467.52 114.97 469.71 115.14 469.5 118.73ZM470.83 118.9L471.32 115.36 473.49 115.76 472.98 119.36ZM474.24 119.73L475.16 116.34 477.23 117.09 476.29 120.52ZM477.48 121.09L478.79 117.94 480.72 119.01 479.38 122.2ZM480.47 122.95L482.12 120.1 483.86 121.45 482.18 124.33ZM483.15 125.22L485.09 122.7 486.63 124.28 484.67 126.81ZM485.53 127.83L487.7 125.64 489.03 127.39 486.87 129.58ZM487.62 130.68L489.96 128.8 491.1 130.69 488.79 132.55ZM489.45 133.73L491.85 132.06 492.87 134.02 490.46 135.68ZM491.03 136.9L493.55 135.51 494.39 137.54 491.9 138.92ZM492.4 140.19L494.95 138.97 495.69 141.04 493.15 142.25ZM493.58 143.55L496.16 142.49 496.8 144.6 494.21 145.65ZM494.58 146.96L497.19 146.06 497.74 148.19 495.11 149.1ZM495.42 150.43L498.06 149.67 498.52 151.82 495.86 152.58ZM496.11 153.92L498.8 153.35 499.14 155.52 496.48 156.09ZM496.67 157.44L499.37 157 499.64 159.18 496.96 159.62ZM497.11 160.99L499.8 160.59 500.04 162.78 497.36 163.17ZM497.51 164.54L500.19 164.15 500.43 166.33 497.75 166.73ZM497.9 168.1L500.59 167.71 500.83 169.89 498.14 170.29ZM498.3 171.66L500.98 171.26 501.22 173.45 498.54 173.85ZM498.69 175.22L501.37 174.82 501.61 177.01 498.93 177.4ZM499.08 178.78L501.77 178.38 502.01 180.57 499.32 180.96ZM499.48 182.33L502.16 181.94 502.4 184.13 499.72 184.52ZM499.87 185.89L502.55 185.5 502.8 187.68 500.11 188.08ZM500.26 189.45L502.95 189.06 503.19 191.24 500.51 191.64ZM500.66 193.01L503.34 192.61 503.58 194.8 500.9 195.2ZM501.05 196.57L503.73 196.17 503.98 198.36 501.29 198.75ZM501.44 200.13L504.13 199.73 504.37 201.92 501.69 202.31ZM501.84 203.68L504.52 203.29 504.76 205.48 502.08 205.87Z"/>
<path fill="#3a3532" d="M504.42 399.11L507.11 399.4 506.87 401.59 504.19 401.19ZM504.04 402.57L506.72 402.96 506.48 405.15 503.8 404.75ZM503.65 406.12L506.33 406.52 506.09 408.7 503.41 408.31ZM503.25 409.68L505.94 410.08 505.7 412.26 503.01 411.87ZM502.86 413.24L505.55 413.64 505.31 415.82 502.62 415.43ZM502.47 416.8L505.16 417.19 504.92 419.38 502.23 418.99ZM502.08 420.36L504.77 420.75 504.53 422.94 501.84 422.55ZM501.69 423.92L504.38 424.31 504.14 426.5 501.45 426.1ZM501.3 427.48L503.98 427.87 503.74 430.06 501.06 429.66ZM500.91 431.04L503.59 431.43 503.35 433.61 500.67 433.22ZM500.52 434.59L503.2 434.99 502.96 437.17 500.28 436.78ZM500.13 438.15L502.81 438.55 502.57 440.73 499.89 440.34ZM499.74 441.71L502.42 442.1 502.18 444.29 499.5 443.9ZM499.35 445.27L502.03 445.66 501.79 447.85 499.11 447.46ZM498.96 448.83L501.64 449.22 501.4 451.41 498.7 451.01ZM498.52 452.37L501.2 452.87 500.89 455.05 498.2 454.55ZM497.98 455.89L500.63 456.52 500.25 458.68 497.57 458.06ZM497.3 459.39L499.95 460.21 499.45 462.35 496.82 461.53ZM496.49 462.86L499.11 463.82 498.52 465.94 495.92 464.98ZM495.53 466.29L498.11 467.4 497.43 469.49 494.86 468.38ZM494.41 469.67L496.94 470.94 496.16 473 493.62 471.72ZM493.1 472.96L495.57 474.51 494.63 476.5 492.19 474.97ZM491.59 476.18L493.97 477.91 492.92 479.84 490.54 478.11ZM489.84 479.28L492.12 481.21 490.95 483.06 488.63 481.11ZM487.85 482.19L489.96 484.45 488.58 486.17 486.45 483.89ZM485.56 484.87L487.44 487.49 485.86 489.01 483.97 486.4ZM482.96 487.25L484.55 490.21 482.76 491.49 481.18 488.54ZM480.06 489.23L481.28 492.48 479.31 493.46 478.1 490.22ZM476.88 490.72L477.68 494.19 475.58 494.84 474.78 491.38ZM473.5 491.67L473.87 495.27 471.69 495.57 471.33 491.99Z"/>
<path fill="#3a3532" fill-rule="evenodd" d="M700.4 492L702.24 491.94 704.07 491.76 705.88 491.46 707.67 491.05 709.43 490.51 711.15 489.87 712.83 489.11 714.45 488.25 716.01 487.28 717.51 486.21 718.93 485.05 720.27 483.8 721.53 482.46 722.69 481.05 723.76 479.56 724.74 478 725.6 476.38 726.36 474.72 727.01 473 727.54 471.25 727.96 469.46 728.26 467.65 728.44 465.83 728.5 464 728.5 146.2 728.44 144.37 728.26 142.55 727.96 140.74 727.54 138.95 727.01 137.2 726.36 135.48 725.6 133.82 724.74 132.2 723.76 130.64 722.69 129.15 721.53 127.74 720.27 126.4 718.93 125.15 717.51 123.99 716.01 122.92 714.45 121.95 712.83 121.09 711.15 120.33 709.43 119.69 707.67 119.15 705.88 118.74 704.07 118.44 702.24 118.26 700.4 118.2 550.87 118.2 549.5 118.23 548.23 118.34 547 118.5 545.81 118.74 544.64 119.03 543.51 119.38 542.41 119.8 541.33 120.27 540.28 120.81 539.26 121.4 538.26 122.04 537.29 122.74 536.34 123.5 535.42 124.32 534.52 125.18 533.64 126.1 532.79 127.08 531.97 128.1 531.17 129.17 530.4 130.29 529.66 131.46 528.94 132.68 528.25 133.93 527.58 135.23 526.95 136.57 526.34 137.95 525.76 139.37 525.2 140.82 524.68 142.31 524.18 143.83 523.71 145.38 523.27 146.96 522.86 148.56 522.48 150.19 522.13 151.85 521.8 153.52 521.5 155.22 521.23 156.94 520.99 158.67 520.78 160.41 515.68 206.11 527.7 205.8 527.7 399.5 513.38 399.19 518.98 450.19 519.2 451.86 519.44 453.55 519.72 455.22 520.02 456.88 520.34 458.52 520.7 460.14 521.08 461.75 521.49 463.32 521.93 464.88 522.39 466.41 522.88 467.91 523.4 469.38 523.95 470.82 524.53 472.23 525.13 473.6 525.76 474.93 526.42 476.22 527.1 477.48 527.81 478.69 528.55 479.85 529.31 480.98 530.1 482.05 530.91 483.07 531.75 484.05 532.62 484.97 533.51 485.84 534.42 486.66 535.36 487.42 536.33 488.13 537.32 488.78 538.33 489.37 539.37 489.91 540.44 490.39 541.54 490.8 542.67 491.16 543.82 491.46 545.02 491.69 546.24 491.86 547.5 491.97 548.87 492ZM725.4 146.2L725.35 144.56 725.19 142.94 724.92 141.32 724.55 139.73 724.07 138.16 723.5 136.63 722.82 135.14 722.05 133.7 721.19 132.31 720.23 130.98 719.2 129.72 718.08 128.52 716.88 127.4 715.62 126.37 714.29 125.41 712.9 124.55 711.46 123.78 709.97 123.1 708.44 122.53 706.87 122.05 705.28 121.68 703.66 121.41 702.04 121.25 700.4 121.2 552.7 121.2 551.06 121.25 549.44 121.41 547.82 121.68 546.23 122.05 544.66 122.53 543.13 123.1 541.64 123.78 540.2 124.55 538.81 125.41 537.48 126.37 536.22 127.4 535.02 128.52 533.9 129.72 532.87 130.98 531.91 132.31 531.05 133.7 530.28 135.14 529.6 136.63 529.03 138.16 528.55 139.73 528.18 141.32 527.91 142.94 527.75 144.56 527.7 146.2 527.7 464 527.75 465.64 527.91 467.26 528.18 468.88 528.55 470.47 529.03 472.04 529.6 473.57 530.28 475.06 531.05 476.5 531.91 477.89 532.87 479.22 533.9 480.48 535.02 481.68 536.22 482.8 537.48 483.83 538.81 484.79 540.2 485.65 541.64 486.42 543.13 487.1 544.66 487.67 546.23 488.15 547.82 488.52 549.44 488.79 551.06 488.95 552.7 489 700.4 489 702.04 488.95 703.66 488.79 705.28 488.52 706.87 488.15 708.44 487.67 709.97 487.1 711.46 486.42 712.9 485.65 714.29 484.79 715.62 483.83 716.88 482.8 718.08 481.68 719.2 480.48 720.23 479.22 721.19 477.89 722.05 476.5 722.82 475.06 723.5 473.57 724.07 472.04 724.55 470.47 724.92 468.88 725.19 467.26 725.35 465.64 725.4 464Z"/>
<path fill="#3a3532" d="M548.87 491.6L548.82 494.8 550.92 494.8 550.92 491.6ZM552.39 491.6L552.39 494.8 554.49 494.8 554.49 491.6ZM555.96 491.6L555.96 494.8 558.06 494.8 558.06 491.6ZM559.53 491.6L559.53 494.8 561.63 494.8 561.63 491.6ZM563.1 491.6L563.1 494.8 565.2 494.8 565.2 491.6ZM566.67 491.6L566.67 494.8 568.77 494.8 568.77 491.6ZM570.24 491.6L570.24 494.8 572.34 494.8 572.34 491.6ZM573.81 491.6L573.81 494.8 575.91 494.8 575.91 491.6ZM577.38 491.6L577.38 494.8 579.48 494.8 579.48 491.6ZM580.95 491.6L580.95 494.8 583.05 494.8 583.05 491.6ZM584.52 491.6L584.52 494.8 586.62 494.8 586.62 491.6ZM588.09 491.6L588.09 494.8 590.19 494.8 590.19 491.6ZM591.66 491.6L591.66 494.8 593.76 494.8 593.76 491.6ZM595.23 491.6L595.23 494.8 597.33 494.8 597.33 491.6ZM598.8 491.6L598.8 494.8 600.9 494.8 600.9 491.6ZM602.37 491.6L602.37 494.8 604.47 494.8 604.47 491.6ZM605.94 491.6L605.94 494.8 608.04 494.8 608.04 491.6ZM609.51 491.6L609.51 494.8 611.61 494.8 611.61 491.6ZM613.08 491.6L613.08 494.8 615.18 494.8 615.18 491.6ZM616.65 491.6L616.65 494.8 618.75 494.8 618.75 491.6ZM620.22 491.6L620.22 494.8 622.32 494.8 622.32 491.6ZM623.79 491.6L623.79 494.8 625.89 494.8 625.89 491.6ZM627.36 491.6L627.36 494.8 629.46 494.8 629.46 491.6ZM630.93 491.6L630.93 494.8 633.03 494.8 633.03 491.6ZM634.5 491.6L634.5 494.8 636.6 494.8 636.6 491.6ZM638.07 491.6L638.07 494.8 640.17 494.8 640.17 491.6ZM641.64 491.6L641.64 494.8 643.74 494.8 643.74 491.6ZM645.21 491.6L645.21 494.8 647.31 494.8 647.31 491.6ZM648.78 491.6L648.78 494.8 650.88 494.8 650.88 491.6ZM652.35 491.6L652.35 494.8 654.45 494.8 654.45 491.6ZM655.92 491.6L655.92 494.8 658.02 494.8 658.02 491.6ZM659.49 491.6L659.49 494.8 661.59 494.8 661.59 491.6ZM663.06 491.6L663.06 494.8 665.16 494.8 665.16 491.6ZM666.63 491.6L666.63 494.8 668.73 494.8 668.73 491.6ZM670.2 491.6L670.2 494.8 672.3 494.8 672.3 491.6ZM673.77 491.6L673.77 494.8 675.87 494.8 675.87 491.6ZM677.34 491.6L677.34 494.8 679.44 494.8 679.44 491.6ZM680.91 491.6L680.91 494.8 683.01 494.8 683.01 491.6ZM684.48 491.6L684.48 494.8 686.58 494.8 686.58 491.6ZM688.05 491.6L688.05 494.8 690.15 494.8 690.15 491.6ZM691.62 491.6L691.62 494.8 693.72 494.8 693.72 491.6ZM695.19 491.6L695.19 494.8 697.29 494.8 697.29 491.6ZM698.76 491.6L698.76 494.8 700.86 494.8 700.86 491.58ZM702.29 491.53L702.74 494.72 704.83 494.51 704.38 491.3ZM705.78 491.07L706.82 494.19 708.87 493.72 707.82 490.58ZM709.18 490.17L710.79 493.18 712.76 492.44 711.14 489.44ZM712.43 488.85L714.6 491.69 716.46 490.7 714.29 487.88ZM715.5 487.13L718.18 489.75 719.89 488.53 717.22 485.93ZM718.32 485.03L721.48 487.39 723.01 485.96 719.87 483.62ZM720.85 482.6L724.43 484.65 725.76 483.03 722.21 481ZM723.06 479.86L726.99 481.58 728.1 479.79 724.2 478.1ZM724.89 476.86L729.12 478.21 729.99 476.3 725.8 474.97ZM726.33 473.66L730.79 474.61 731.4 472.6 727 471.67ZM727.36 470.3L731.95 470.83 732.3 468.76 727.76 468.24ZM727.94 466.83L732.6 466.94 732.67 464.84 728.08 464.74ZM728.1 463.28L732.7 463.28 732.7 461.18 728.1 461.18ZM728.1 459.71L732.7 459.71 732.7 457.61 728.1 457.61ZM728.1 456.14L732.7 456.14 732.7 454.04 728.1 454.04ZM728.1 452.57L732.7 452.57 732.7 450.47 728.1 450.47ZM728.1 449L732.7 449 732.7 446.9 728.1 446.9ZM728.1 445.43L732.7 445.43 732.7 443.33 728.1 443.33ZM728.1 441.86L732.7 441.86 732.7 439.76 728.1 439.76ZM728.1 438.29L732.7 438.29 732.7 436.19 728.1 436.19ZM728.1 434.72L732.7 434.72 732.7 432.62 728.1 432.62ZM728.1 431.15L732.7 431.15 732.7 429.05 728.1 429.05ZM728.1 427.58L732.7 427.58 732.7 425.48 728.1 425.48ZM728.1 424.01L732.7 424.01 732.7 421.91 728.1 421.91ZM728.1 420.44L732.7 420.44 732.7 418.34 728.1 418.34ZM728.1 416.87L732.7 416.87 732.7 414.77 728.1 414.77ZM728.1 413.3L732.7 413.3 732.7 411.2 728.1 411.2ZM728.1 409.73L732.7 409.73 732.7 407.63 728.1 407.63ZM728.1 406.16L732.7 406.16 732.7 404.06 728.1 404.06ZM728.1 402.59L732.7 402.59 732.7 400.49 728.1 400.49ZM728.1 399.02L732.7 399.02 732.7 396.92 728.1 396.92ZM728.1 395.45L732.7 395.45 732.7 393.35 728.1 393.35ZM728.1 391.88L732.7 391.88 732.7 389.78 728.1 389.78ZM728.1 388.31L732.7 388.31 732.7 386.21 728.1 386.21ZM728.1 384.74L732.7 384.74 732.7 382.64 728.1 382.64ZM728.1 381.17L732.7 381.17 732.7 379.07 728.1 379.07ZM728.1 377.6L732.7 377.6 732.7 375.5 728.1 375.5ZM728.1 374.03L732.7 374.03 732.7 371.93 728.1 371.93ZM728.1 370.46L732.7 370.46 732.7 368.36 728.1 368.36ZM728.1 366.89L732.7 366.89 732.7 364.79 728.1 364.79ZM728.1 363.32L732.7 363.32 732.7 361.22 728.1 361.22ZM728.1 359.75L732.7 359.75 732.7 357.65 728.1 357.65ZM728.1 356.18L732.7 356.18 732.7 354.08 728.1 354.08ZM728.1 352.61L732.7 352.61 732.7 350.51 728.1 350.51ZM728.1 349.04L732.7 349.04 732.7 346.94 728.1 346.94ZM728.1 345.47L732.7 345.47 732.7 343.37 728.1 343.37ZM728.1 341.9L732.7 341.9 732.7 339.8 728.1 339.8ZM728.1 338.33L732.7 338.33 732.7 336.23 728.1 336.23ZM728.1 334.76L732.7 334.76 732.7 332.66 728.1 332.66ZM728.1 331.19L732.7 331.19 732.7 329.09 728.1 329.09ZM728.1 327.62L732.7 327.62 732.7 325.52 728.1 325.52ZM728.1 324.05L732.7 324.05 732.7 321.95 728.1 321.95ZM728.1 320.48L732.7 320.48 732.7 318.38 728.1 318.38ZM728.1 316.91L732.7 316.91 732.7 314.81 728.1 314.81ZM728.1 313.34L732.7 313.34 732.7 311.24 728.1 311.24ZM728.1 309.77L732.7 309.77 732.7 307.67 728.1 307.67ZM728.1 306.2L732.7 306.2 732.7 304.1 728.1 304.1ZM728.1 302.63L732.7 302.63 732.7 300.53 728.1 300.53ZM728.1 299.06L732.7 299.06 732.7 296.96 728.1 296.96ZM728.1 295.49L732.7 295.49 732.7 293.39 728.1 293.39ZM728.1 291.92L732.7 291.92 732.7 289.82 728.1 289.82ZM728.1 288.35L732.7 288.35 732.7 286.25 728.1 286.25ZM728.1 284.78L732.7 284.78 732.7 282.68 728.1 282.68ZM728.1 281.21L732.7 281.21 732.7 279.11 728.1 279.11ZM728.1 277.64L732.7 277.64 732.7 275.54 728.1 275.54ZM728.1 274.07L732.7 274.07 732.7 271.97 728.1 271.97ZM728.1 270.5L732.7 270.5 732.7 268.4 728.1 268.4ZM728.1 266.93L732.7 266.93 732.7 264.83 728.1 264.83ZM728.1 263.36L732.7 263.36 732.7 261.26 728.1 261.26ZM728.1 259.79L732.7 259.79 732.7 257.69 728.1 257.69ZM728.1 256.22L732.7 256.22 732.7 254.12 728.1 254.12ZM728.1 252.65L732.7 252.65 732.7 250.55 728.1 250.55ZM728.1 249.08L732.7 249.08 732.7 246.98 728.1 246.98ZM728.1 245.51L732.7 245.51 732.7 243.41 728.1 243.41ZM728.1 241.94L732.7 241.94 732.7 239.84 728.1 239.84ZM728.1 238.37L732.7 238.37 732.7 236.27 728.1 236.27ZM728.1 234.8L732.7 234.8 732.7 232.7 728.1 232.7ZM728.1 231.23L732.7 231.23 732.7 229.13 728.1 229.13ZM728.1 227.66L732.7 227.66 732.7 225.56 728.1 225.56ZM728.1 224.09L732.7 224.09 732.7 221.99 728.1 221.99ZM728.1 220.52L732.7 220.52 732.7 218.42 728.1 218.42ZM728.1 216.95L732.7 216.95 732.7 214.85 728.1 214.85ZM728.1 213.38L732.7 213.38 732.7 211.28 728.1 211.28ZM728.1 209.81L732.7 209.81 732.7 207.71 728.1 207.71ZM728.1 206.24L732.7 206.24 732.7 204.14 728.1 204.14ZM728.1 202.67L732.7 202.67 732.7 200.57 728.1 200.57ZM728.1 199.1L732.7 199.1 732.7 197 728.1 197ZM728.1 195.53L732.7 195.53 732.7 193.43 728.1 193.43ZM728.1 191.96L732.7 191.96 732.7 189.86 728.1 189.86ZM728.1 188.39L732.7 188.39 732.7 186.29 728.1 186.29ZM728.1 184.82L732.7 184.82 732.7 182.72 728.1 182.72ZM728.1 181.25L732.7 181.25 732.7 179.15 728.1 179.15ZM728.1 177.68L732.7 177.68 732.7 175.58 728.1 175.58ZM728.1 174.11L732.7 174.11 732.7 172.01 728.1 172.01ZM728.1 170.54L732.7 170.54 732.7 168.44 728.1 168.44ZM728.1 166.97L732.7 166.97 732.7 164.87 728.1 164.87ZM728.1 163.4L732.7 163.4 732.7 161.3 728.1 161.3ZM728.1 159.83L732.7 159.83 732.7 157.73 728.1 157.73ZM728.1 156.26L732.7 156.26 732.7 154.16 728.1 154.16ZM728.1 152.69L732.7 152.69 732.7 150.59 728.1 150.59ZM728.1 149.12L732.7 149.12 732.7 147.02 728.1 147.02ZM728.08 145.56L732.68 145.46 732.61 143.36 727.95 143.47ZM727.77 142.06L732.31 141.54 731.97 139.47 727.38 140ZM727.03 138.63L731.43 137.7 730.81 135.69 726.37 136.64ZM725.85 135.32L730.03 133.99 729.16 132.08 724.94 133.43ZM724.25 132.18L728.16 130.49 727.05 128.71 723.11 130.42ZM722.28 129.28L725.83 127.24 724.49 125.62 720.92 127.68ZM719.95 126.65L723.09 124.31 721.55 122.87 718.4 125.23ZM717.3 124.33L719.97 121.73 718.27 120.51 715.58 123.12ZM714.38 122.38L716.55 119.54 714.69 118.56 712.53 121.39ZM711.23 120.81L712.85 117.79 710.89 117.06 709.27 120.05ZM707.92 119.64L708.96 116.51 706.92 116.03 705.88 119.15ZM704.48 118.91L704.93 115.7 702.84 115.49 702.39 118.68ZM700.96 118.62L700.96 115.4 698.86 115.4 698.86 118.6ZM697.39 118.6L697.39 115.4 695.29 115.4 695.29 118.6ZM693.82 118.6L693.82 115.4 691.72 115.4 691.72 118.6ZM690.25 118.6L690.25 115.4 688.15 115.4 688.15 118.6ZM686.68 118.6L686.68 115.4 684.58 115.4 684.58 118.6ZM683.11 118.6L683.11 115.4 681.01 115.4 681.01 118.6ZM679.54 118.6L679.54 115.4 677.44 115.4 677.44 118.6ZM675.97 118.6L675.97 115.4 673.87 115.4 673.87 118.6ZM672.4 118.6L672.4 115.4 670.3 115.4 670.3 118.6ZM668.83 118.6L668.83 115.4 666.73 115.4 666.73 118.6ZM665.26 118.6L665.26 115.4 663.16 115.4 663.16 118.6ZM661.69 118.6L661.69 115.4 659.59 115.4 659.59 118.6ZM658.12 118.6L658.12 115.4 656.02 115.4 656.02 118.6ZM654.55 118.6L654.55 115.4 652.45 115.4 652.45 118.6ZM650.98 118.6L650.98 115.4 648.88 115.4 648.88 118.6ZM647.41 118.6L647.41 115.4 645.31 115.4 645.31 118.6ZM643.84 118.6L643.84 115.4 641.74 115.4 641.74 118.6ZM640.27 118.6L640.27 115.4 638.17 115.4 638.17 118.6ZM636.7 118.6L636.7 115.4 634.6 115.4 634.6 118.6ZM633.13 118.6L633.13 115.4 631.03 115.4 631.03 118.6ZM629.56 118.6L629.56 115.4 627.46 115.4 627.46 118.6ZM625.99 118.6L625.99 115.4 623.89 115.4 623.89 118.6ZM622.42 118.6L622.42 115.4 620.32 115.4 620.32 118.6ZM618.85 118.6L618.85 115.4 616.75 115.4 616.75 118.6ZM615.28 118.6L615.28 115.4 613.18 115.4 613.18 118.6ZM611.71 118.6L611.71 115.4 609.61 115.4 609.61 118.6ZM608.14 118.6L608.14 115.4 606.04 115.4 606.04 118.6ZM604.57 118.6L604.57 115.4 602.47 115.4 602.47 118.6ZM601 118.6L601 115.4 598.9 115.4 598.9 118.6ZM597.43 118.6L597.43 115.4 595.33 115.4 595.33 118.6ZM593.86 118.6L593.86 115.4 591.76 115.4 591.76 118.6ZM590.29 118.6L590.29 115.4 588.19 115.4 588.19 118.6ZM586.72 118.6L586.72 115.4 584.62 115.4 584.62 118.6ZM583.15 118.6L583.15 115.4 581.05 115.4 581.05 118.6ZM579.58 118.6L579.58 115.4 577.48 115.4 577.48 118.6ZM576.01 118.6L576.01 115.4 573.91 115.4 573.91 118.6ZM572.44 118.6L572.44 115.4 570.34 115.4 570.34 118.6ZM568.87 118.6L568.87 115.4 566.77 115.4 566.77 118.6ZM565.3 118.6L565.3 115.4 563.2 115.4 563.2 118.6ZM561.73 118.6L561.73 115.4 559.63 115.4 559.63 118.6ZM558.16 118.6L558.16 115.4 556.06 115.4 556.06 118.6ZM554.59 118.6L554.59 115.4 552.49 115.4 552.49 118.6Z"/>
<path fill="#3a3532" d="M550.45 118.61L550.2 115.37 548.11 115.54 548.36 118.73ZM546.95 118.92L546.36 115.78 544.3 116.18 544.9 119.38ZM543.56 119.79L542.47 116.8 540.5 117.54 541.61 120.59ZM540.38 121.21L538.66 118.48 536.9 119.62 538.59 122.31ZM537.43 123.14L535.49 120.64 533.85 121.96 535.82 124.49ZM534.8 125.47L532.55 123.27 531.1 124.79 533.38 127.02ZM532.47 128.11L529.98 126.2 528.72 127.88 531.23 129.8ZM530.43 130.99L527.74 129.35 526.67 131.15 529.34 132.78ZM528.64 134.05L525.88 132.59 524.92 134.46 527.7 135.92ZM527.1 137.23L524.2 136 523.41 137.95 526.28 139.16ZM525.75 140.51L522.82 139.44 522.12 141.42 525.04 142.49ZM524.59 143.87L521.62 142.94 521.01 144.95 523.99 145.88ZM523.6 147.28L520.6 146.49 520.08 148.52 523.1 149.32ZM522.77 150.74L519.74 150.07 519.3 152.12 522.35 152.79ZM522.08 154.22L519.03 153.67 518.67 155.74 521.74 156.3ZM521.53 157.73L518.43 157.34 518.18 159.43 521.26 159.81ZM521.09 161.27L518.01 160.91 517.78 163 520.86 163.35ZM520.69 164.82L517.61 164.46 517.38 166.55 520.46 166.9ZM520.3 168.36L517.22 168.01 516.98 170.1 520.07 170.45ZM519.9 171.91L516.82 171.56 516.59 173.64 519.67 174ZM519.51 175.46L516.43 175.1 516.19 177.19 519.27 177.55ZM519.11 179.01L516.03 178.65 515.8 180.74 518.88 181.09ZM518.71 182.56L515.63 182.2 515.4 184.29 518.48 184.64ZM518.32 186.1L515.24 185.75 515 187.84 518.09 188.19ZM517.92 189.65L514.84 189.3 514.61 191.38 517.69 191.74ZM517.53 193.2L514.45 192.84 514.21 194.93 517.29 195.29ZM517.13 196.75L514.05 196.39 513.82 198.48 516.9 198.83ZM516.73 200.3L513.65 199.94 513.42 202.03 516.5 202.38ZM516.34 203.84L513.26 203.49 513.03 205.58 516.11 205.93Z"/>
<path fill="#3a3532" d="M513.78 399.15L510.69 399.45 510.92 401.54 514.01 401.19ZM514.17 402.65L511.08 403 511.31 405.09 514.39 404.74ZM514.56 406.2L511.47 406.55 511.7 408.64 514.78 408.29ZM514.94 409.75L511.86 410.1 512.09 412.18 515.17 411.83ZM515.33 413.3L512.25 413.64 512.48 415.73 515.56 415.38ZM515.72 416.84L512.64 417.19 512.87 419.28 515.95 418.93ZM516.11 420.39L513.03 420.74 513.26 422.83 516.34 422.48ZM516.5 423.94L513.42 424.29 513.65 426.38 516.73 426.03ZM516.89 427.49L513.81 427.84 514.04 429.93 517.12 429.58ZM517.28 431.04L514.2 431.39 514.43 433.48 517.51 433.13ZM517.67 434.59L514.59 434.94 514.82 437.02 517.9 436.68ZM518.06 438.14L514.98 438.49 515.21 440.57 518.29 440.22ZM518.45 441.69L515.37 442.03 515.6 444.12 518.68 443.77ZM518.84 445.23L515.76 445.58 515.99 447.67 519.07 447.32ZM519.23 448.78L516.15 449.13 516.38 451.22 519.47 450.87ZM519.67 452.31L516.6 452.77 516.9 454.85 519.99 454.39ZM520.23 455.82L517.17 456.44 517.58 458.5 520.62 457.88ZM520.92 459.3L517.89 460.05 518.38 462.09 521.4 461.35ZM521.76 462.76L518.76 463.63 519.33 465.65 522.31 464.78ZM522.74 466.17L519.79 467.17 520.44 469.16 523.4 468.16ZM523.89 469.53L520.99 470.67 521.74 472.63 524.66 471.48ZM525.22 472.81L522.4 474.18 523.3 476.08 526.1 474.71ZM526.75 476.01L524.03 477.54 525.04 479.38 527.78 477.84ZM528.52 479.06L525.94 480.88 527.12 482.61 529.68 480.81ZM530.54 481.96L528.12 483.96 529.42 485.6 531.88 483.58ZM532.84 484.63L530.67 486.92 532.17 488.39 534.37 486.07ZM535.45 486.98L533.61 489.57 535.31 490.81 537.16 488.2ZM538.36 488.93L536.94 491.78 538.81 492.74 540.24 489.86ZM541.55 490.38L540.6 493.43 542.61 494.07 543.56 490.98ZM544.93 491.27L544.5 494.45 546.58 494.73 547.01 491.52Z"/>
<path d="M490.2 205.8V399.5M527.4 205.8V399.5" stroke="#a9a9a9" stroke-width="1.3" fill="none"/>
<path d="M489.6 206.2H528" stroke="#555" stroke-width="0.9" fill="none"/>
<path d="M491 209.8H527M491 395.8H527" stroke="#8a8a8a" stroke-width="1.1" stroke-dasharray="3.8 2.8" fill="none"/>
<rect x="489.6" y="399.3" width="38.4" height="19" fill="#3a3532"/>
<ellipse cx="509" cy="411.2" rx="9.7" ry="6.2" fill="#312b28"/>
<path fill="#3a3532" fill-rule="evenodd" d="M503.8 414H514.2L515.3 446.2A6.3 8.2 0 0 1 502.7 446.2ZM514.1 446.1A5.1 5.5 0 1 0 503.9 446.1A5.1 5.5 0 1 0 514.1 446.1Z"/>
<path fill="#372e2b" d="M505.6 404h6.6v20h-6.6z"/>
<path fill="#fff" d="M503.2 400.6h1v1h-1zM503 403.4h1.1v1.1h-1.1zM513.6 400.6h1v1h-1zM513.8 403.4h1.1v1.1h-1.1z"/>
<path d="M292 187.5H490" stroke="#555" stroke-width="1" fill="none"/>
<path d="M293.2 190.6H489.5" stroke="#7d7d7d" stroke-width="1" stroke-dasharray="3.8 2.8" fill="none"/>
<rect x="94.7" y="196.6" width="85.8" height="217.1" fill="#9e9f9f" stroke="#4a4745" stroke-width="1"/>
<rect x="348.7" y="262.6" width="84.7" height="151.6" fill="#9e9f9f" stroke="#4a4745" stroke-width="1"/>
<path d="M137.6 123V194.4" stroke="#e2002f" stroke-width="0.8" fill="none"/><path fill="#e2002f" d="M137.6 121l-2.9 5.2h5.8zM137.6 196.4l-2.9 -5.2h5.8z"/><circle cx="137.6" cy="156.7" r="2.7" fill="#e2002f"/>
<path d="M137.6 416.4V486.9" stroke="#e2002f" stroke-width="0.8" fill="none"/><path fill="#e2002f" d="M137.6 414.4l-2.9 5.2h5.8zM137.6 488.9l-2.9 -5.2h5.8z"/><circle cx="137.6" cy="449.7" r="2.7" fill="#e2002f"/>
<path d="M390.8 189.8V260.3" stroke="#e2002f" stroke-width="0.8" fill="none"/><path fill="#e2002f" d="M390.8 187.8l-2.9 5.2h5.8zM390.8 262.3l-2.9 -5.2h5.8z"/><circle cx="390.8" cy="222.9" r="2.7" fill="#e2002f"/>
<path d="M390.8 416.8V487.3" stroke="#e2002f" stroke-width="0.8" fill="none"/><path fill="#e2002f" d="M390.8 414.8l-2.9 5.2h5.8zM390.8 489.3l-2.9 -5.2h5.8z"/><circle cx="390.8" cy="449.7" r="2.7" fill="#e2002f"/>
<path d="M41 305.3H92.3" stroke="#e2002f" stroke-width="0.8" fill="none"/><path fill="#e2002f" d="M39 305.3l5.2 -2.8v5.6zM94.3 305.3l-5.2 -2.8v5.6z"/><circle cx="66.7" cy="305.3" r="2.4" fill="#fff" stroke="#e2002f" stroke-width="0.75"/>
<path d="M183 305.3H234.2" stroke="#e2002f" stroke-width="0.8" fill="none"/><path fill="#e2002f" d="M181 305.3l5.2 -2.8v5.6zM236.2 305.3l-5.2 -2.8v5.6z"/><circle cx="208.6" cy="305.3" r="2.4" fill="#fff" stroke="#e2002f" stroke-width="0.75"/>
<path d="M294.2 338.5H346.3" stroke="#e2002f" stroke-width="0.8" fill="none"/><path fill="#e2002f" d="M292.2 338.5l5.2 -2.8v5.6zM348.3 338.5l-5.2 -2.8v5.6z"/><circle cx="320.5" cy="338.5" r="2.4" fill="#fff" stroke="#e2002f" stroke-width="0.75"/>
<path d="M435.8 338.5H487.9" stroke="#e2002f" stroke-width="0.8" fill="none"/><path fill="#e2002f" d="M433.8 338.5l5.2 -2.8v5.6zM489.9 338.5l-5.2 -2.8v5.6z"/><circle cx="461.8" cy="338.5" r="2.4" fill="#fff" stroke="#e2002f" stroke-width="0.75"/>
<g font-family="'Liberation Sans', sans-serif" font-size="9.5" fill="#d8102f">
<text x="158.5" y="162.6" textLength="11.9" lengthAdjust="spacingAndGlyphs">mm</text>
<text x="158.5" y="455.9" textLength="11.9" lengthAdjust="spacingAndGlyphs">mm</text>
<text x="411.1" y="228.8" textLength="11.9" lengthAdjust="spacingAndGlyphs">mm</text>
<text x="411.1" y="455.9" textLength="11.9" lengthAdjust="spacingAndGlyphs">mm</text>
<text x="66.1" y="297.6" textLength="11.9" lengthAdjust="spacingAndGlyphs">mm</text>
<text x="207.7" y="297.6" textLength="11.9" lengthAdjust="spacingAndGlyphs">mm</text>
<text x="319.9" y="331" textLength="11.9" lengthAdjust="spacingAndGlyphs">mm</text>
<text x="461.6" y="331" textLength="11.9" lengthAdjust="spacingAndGlyphs">mm</text>
</g>
<text x="21.5" y="41" font-family="'Liberation Sans', 'Noto Sans CJK JP', sans-serif" font-size="24" font-weight="500" fill="#fff" textLength="122" lengthAdjust="spacing">名入れ範囲</text>
<text x="134.9" y="95.5" text-anchor="middle" font-family="'Liberation Sans', 'Noto Sans CJK JP', sans-serif" font-size="20" fill="#231815">〈表面〉</text>
<text x="392.4" y="95.5" text-anchor="middle" font-family="'Liberation Sans', 'Noto Sans CJK JP', sans-serif" font-size="20" fill="#231815">〈裏面〉</text>
<g font-family="'Liberation Sans', 'Noto Sans CJK JP', sans-serif" font-size="14.5" fill="#231815">
<text x="149.5" y="523.8" textLength="81" lengthAdjust="spacing">※印刷範囲</text>
<text x="242.7" y="523.1" text-anchor="middle">Ａ</text>
<text x="350.9" y="523.1" font-size="14" textLength="17.1" lengthAdjust="spacingAndGlyphs">mm</text>
<text x="149.5" y="543.7" textLength="81" lengthAdjust="spacing">※印刷範囲</text>
<text x="242.65" y="543" text-anchor="middle">Ｂ</text>
<text x="341.9" y="543" font-size="14" textLength="17.1" lengthAdjust="spacingAndGlyphs">mm</text>
</g>
</svg>
<span class="t dim" style="left:146.2px;top:153.7px">40</span>
<span class="t dim" style="left:146.2px;top:447px">40</span>
<span class="t dim" style="left:398.8px;top:219.9px">40</span>
<span class="t dim" style="left:398.8px;top:447px">40</span>
<span class="t dim" style="left:53.8px;top:288.7px">30</span>
<span class="t dim" style="left:195.4px;top:288.7px">30</span>
<span class="t dim" style="left:307.6px;top:322.1px">30</span>
<span class="t dim" style="left:449.3px;top:322.1px">30</span>
<span class="t big" style="left:127.2px;top:291px;transform:scaleX(0.95)">A</span>
<span class="t big" style="left:383px;top:324.5px;transform:scaleX(0.82)">B</span>
<span class="t note" style="left:253.5px;top:509.1px;transform:scaleX(1.06)">W45</span>
<span class="t note x" style="left:293.6px;top:509.1px;transform:scaleX(1.25)">×</span>
<span class="t note" style="left:309.7px;top:509.1px;transform:scaleX(1.11)">H115</span>
<span class="t note" style="left:253.5px;top:529px;transform:scaleX(1.06)">W45</span>
<span class="t note x" style="left:293.6px;top:529px;transform:scaleX(1.25)">×</span>
<span class="t note" style="left:309.7px;top:529px;transform:scaleX(1.08)">H80</span>
</body>
</html>
